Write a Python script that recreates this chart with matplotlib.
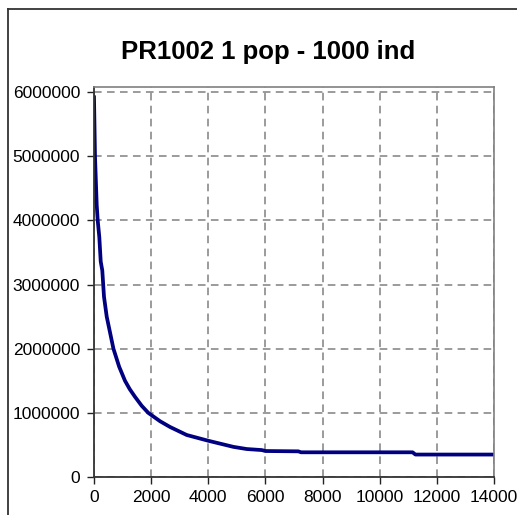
import matplotlib
matplotlib.use("Agg")
import matplotlib.pyplot as plt
from matplotlib.lines import Line2D

plt.rcParams['font.family'] = ['Liberation Sans', 'DejaVu Sans']

# generations vs best tour length
generation = [0, 35, 95, 130, 186, 235, 290, 350, 445, 680, 880, 1085, 1250,
              1435, 1670, 1900, 2310, 2660, 3245, 4000, 4877, 5345, 5870,
              6000, 7150, 7250, 11150, 11250, 14000]
fitness = [5920000, 5000000, 4240000, 4000000, 3740000, 3360000, 3220000,
           2810000, 2500000, 2000000, 1720000, 1500000, 1370000, 1250000,
           1110000, 1000000, 870000, 780000, 655000, 565000, 470000, 436000,
           420000, 405000, 400000, 385000, 385000, 350000, 350000]

x_ticks = list(range(0, 14001, 2000))
y_ticks = list(range(0, 6000001, 1000000))

fig = plt.figure(figsize=(5.17, 5.15), dpi=100)
ax = fig.add_axes([94 / 517, 38 / 515, 400 / 517, 390 / 515])

ax.plot(generation, fitness, color='#000080', linewidth=2.7, solid_joinstyle='round')

ax.set_xlim(0, 14000)
ax.set_ylim(0, 6080000)
ax.set_xticks(x_ticks)
ax.set_yticks(y_ticks)
ax.set_xticklabels([str(v) for v in x_ticks])
ax.set_yticklabels([str(v) for v in y_ticks])
ax.tick_params(axis='both', direction='out', length=5, width=1, colors='#222222',
               labelsize=12.5, labelcolor='black')
ax.tick_params(axis='y', pad=5)
ax.tick_params(axis='x', pad=4)

ax.grid(True, color='#808080', linestyle=(0, (5, 3.5)), linewidth=1.1)
ax.set_axisbelow(True)

for side in ['top', 'right']:
    ax.spines[side].set_color('#808080')
    ax.spines[side].set_linewidth(1.2)
for side in ['left', 'bottom']:
    ax.spines[side].set_color('#333333')
    ax.spines[side].set_linewidth(1.3)

fig.text(268 / 517, 1 - 52.5 / 515, 'PR1002 1 pop - 1000 ind',
         ha='center', va='center', fontsize=18.5, fontweight='bold')

# outer chart frame (left and top edges)
fig.add_artist(Line2D([8 / 517, 8 / 517], [0, 1 - 9 / 515], color='#333333',
                      linewidth=1.3, transform=fig.transFigure))
fig.add_artist(Line2D([8 / 517, 1], [1 - 9 / 515, 1 - 9 / 515], color='#333333',
                      linewidth=1.3, transform=fig.transFigure))

fig.savefig('out.png', dpi=100)
